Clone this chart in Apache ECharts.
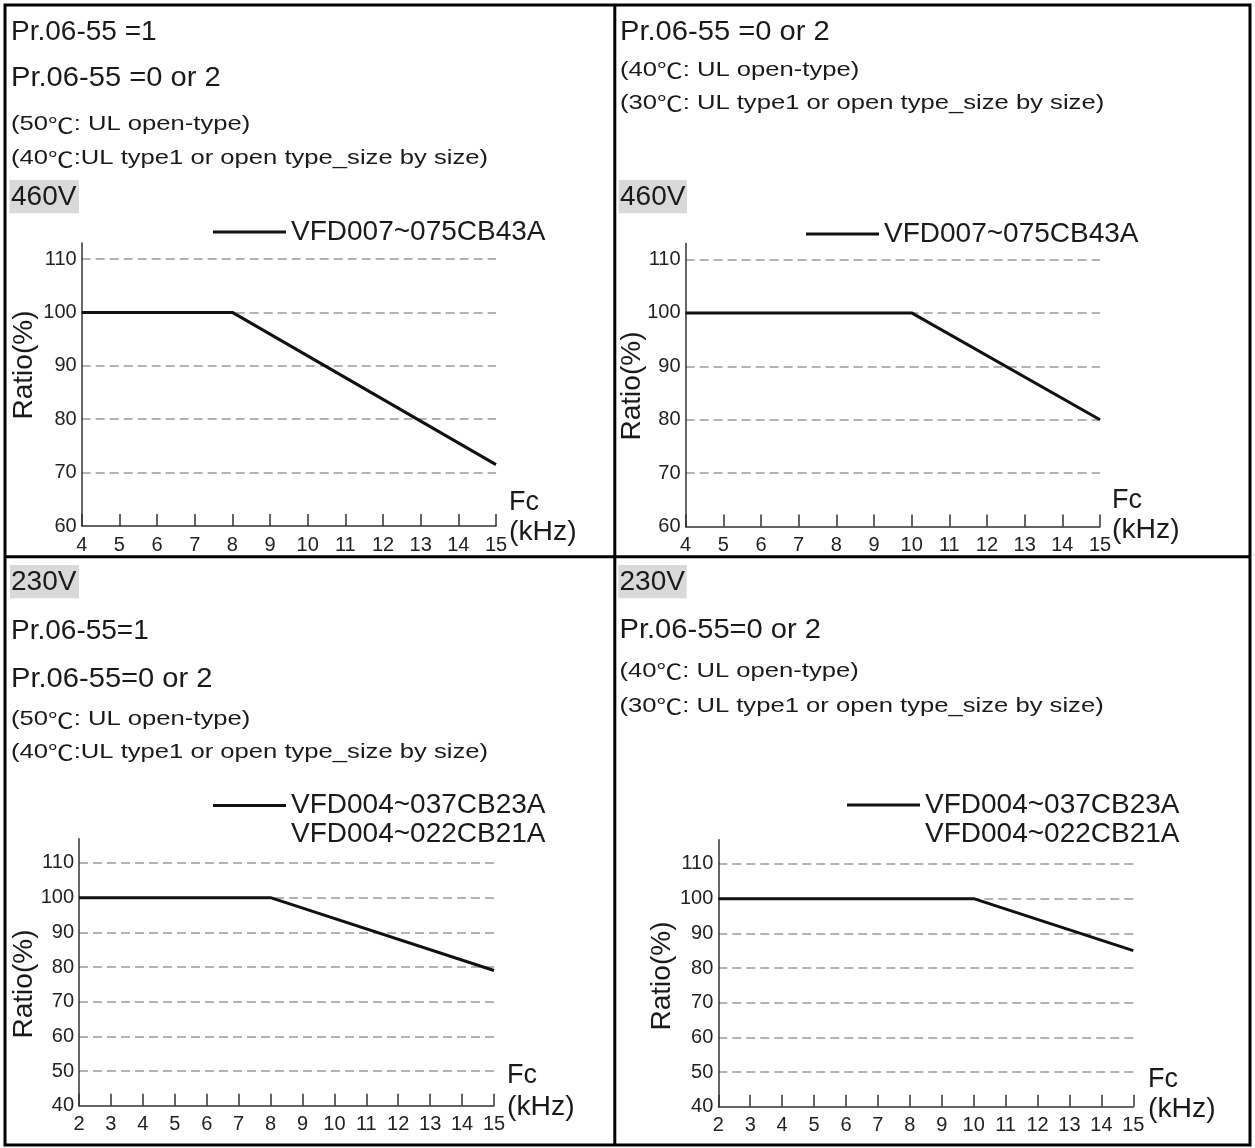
<!DOCTYPE html>
<html>
<head>
<meta charset="utf-8">
<script src="https://cdn.jsdelivr.net/npm/echarts@6/dist/echarts.min.js"></script>
<style>html,body{margin:0;padding:0;background:#fff;}#c{width:1255px;height:1148px;}</style>
</head>
<body>
<div id="c"></div>
<script>
// ---- data ----
const freqTicks460 = [4, 5, 6, 7, 8, 9, 10, 11, 12, 13, 14, 15];
const freqTicks230 = [2, 3, 4, 5, 6, 7, 8, 9, 10, 11, 12, 13, 14, 15];
const ratioTicks460 = [60, 70, 80, 90, 100, 110];
const ratioTicks230 = [40, 50, 60, 70, 80, 90, 100, 110];

const p1Fc = [4, 8, 15];
const p1Ratio = [100, 100, 71.5];
const p2Fc = [4, 10, 15];
const p2Ratio = [100, 100, 80];
const p3Fc = [2, 8, 15];
const p3Ratio = [100, 100, 79];
const p4Fc = [2, 10, 15];
const p4Ratio = [100, 100, 85];

const name460 = 'VFD007~075CB43A';
const name230a = 'VFD004~037CB23A';
const name230b = 'VFD004~022CB21A';

// ---- styling ----
const FONT = '"Liberation Sans", Arial, Helvetica, "Noto Sans CJK SC", sans-serif';
const CJK = '"Noto Sans CJK SC", "Noto Sans CJK JP", sans-serif';
const INK = '#1a1a1a';
const AXIS = '#333';

const panels = [
  {fc: p1Fc, r: p1Ratio, name: name460, xt: freqTicks460, yt: ratioTicks460, ymax: 113,
   grid: {left: 81.7, top: 243, width: 414.3, height: 283}},
  {fc: p2Fc, r: p2Ratio, name: name460, xt: freqTicks460, yt: ratioTicks460, ymax: 113,
   grid: {left: 685.6, top: 243.5, width: 414.4, height: 283}},
  {fc: p3Fc, r: p3Ratio, name: name230a, xt: freqTicks230, yt: ratioTicks230, ymax: 117,
   grid: {left: 79, top: 838.7, width: 415, height: 267}},
  {fc: p4Fc, r: p4Ratio, name: name230a, xt: freqTicks230, yt: ratioTicks230, ymax: 117,
   grid: {left: 718.3, top: 839.7, width: 415, height: 267}}
];

function txt(s, x, baseline, size, sx) {
  return {
    type: 'text', x: x, y: baseline - 0.34 * size, scaleX: sx || 1, z: 10,
    style: {
      text: s.replace('℃', '{c|℃}'), fontSize: size, fontFamily: FONT, fill: INK,
      align: 'left', verticalAlign: 'middle',
      rich: {c: {fontFamily: CJK, fontSize: size, fill: INK}}
    }
  };
}
function vbox(label, x, y, w, h, tx, baseline) {
  return [
    {type: 'rect', shape: {x: x, y: y, width: w, height: h}, style: {fill: '#d9d9d9'}, z: 5},
    txt(label, tx, baseline, 28)
  ];
}
function ratioName(cx, cy) {
  return {
    type: 'text', x: cx, y: cy, rotation: Math.PI / 2, z: 10,
    style: {text: 'Ratio(%)', fontSize: 28, fontFamily: FONT, fill: INK, align: 'center', verticalAlign: 'middle'}
  };
}
function fcName(x, b1, b2) {
  return [txt('Fc', x, b1, 27), txt('(kHz)', x, b2, 27, 1.05)];
}

const graphics = [
  {type: 'rect', shape: {x: 5, y: 5, width: 1245, height: 1140}, style: {fill: null, stroke: '#000', lineWidth: 3}, z: 20},
  {type: 'line', shape: {x1: 614.8, y1: 5, x2: 614.8, y2: 1145}, style: {stroke: '#000', lineWidth: 3}, z: 20},
  {type: 'line', shape: {x1: 5, y1: 556.7, x2: 1250, y2: 556.7}, style: {stroke: '#000', lineWidth: 3}, z: 20},
  // panel 1
  txt('Pr.06-55 =1', 11, 41.7, 28),
  txt('Pr.06-55 =0 or 2', 11, 88, 28, 1.04),
  txt('(50℃: UL open-type)', 11, 131.7, 21, 1.22),
  txt('(40℃:UL type1 or open type_size by size)', 11, 165.7, 21, 1.22),
  ...vbox('460V', 9.5, 180, 69.5, 33.3, 11, 206.7),
  ratioName(24, 365),
  ...fcName(509, 511.7, 541.7),
  // panel 2
  txt('Pr.06-55 =0 or 2', 620, 41.7, 28, 1.04),
  txt('(40℃: UL open-type)', 620, 77, 21, 1.22),
  txt('(30℃: UL type1 or open type_size by size)', 620, 110, 21, 1.22),
  ...vbox('460V', 618.5, 180, 68.5, 33.3, 620, 206.7),
  ratioName(632, 386),
  ...fcName(1112, 510, 540),
  // panel 3
  ...vbox('230V', 10, 565, 69, 33.3, 11, 591.7),
  txt('Pr.06-55=1', 11, 641, 28),
  txt('Pr.06-55=0 or 2', 11, 689, 28, 1.04),
  txt('(50℃: UL open-type)', 11, 726.7, 21, 1.22),
  txt('(40℃:UL type1 or open type_size by size)', 11, 759, 21, 1.22),
  txt(name230b, 291, 844.3, 28),
  ratioName(24, 984),
  ...fcName(507, 1085, 1116.7),
  // panel 4
  ...vbox('230V', 618.3, 565, 68.4, 33.3, 619.5, 591.7),
  txt('Pr.06-55=0 or 2', 619.5, 640, 28, 1.04),
  txt('(40℃: UL open-type)', 619.5, 678.3, 21, 1.22),
  txt('(30℃: UL type1 or open type_size by size)', 619.5, 713, 21, 1.22),
  txt(name230b, 925, 844, 28),
  ratioName(662, 976),
  ...fcName(1148, 1088.3, 1118.3)
];

const legendPos = [
  {left: 213, top: 218},
  {left: 806, top: 220},
  {left: 213, top: 791.5},
  {left: 847, top: 791}
];

const option = {
  animation: false,
  backgroundColor: '#fff',
  textStyle: {fontFamily: FONT},
  grid: panels.map(p => Object.assign({containLabel: false, outerBoundsMode: 'none'}, p.grid)),
  legend: panels.map((p, i) => ({
    data: [p.name], left: legendPos[i].left, top: legendPos[i].top, padding: 0,
    itemWidth: 73, itemHeight: 3, icon: 'rect', selectedMode: false,
    textStyle: {fontSize: 28, color: INK, fontFamily: FONT}
  })),
  xAxis: panels.map((p, i) => ({
    gridIndex: i, type: 'value', min: p.xt[0], max: p.xt[p.xt.length - 1], interval: 1,
    axisLine: {show: true, onZero: false, lineStyle: {color: AXIS, width: 1.5}},
    axisTick: {show: true, inside: true, length: 12, lineStyle: {color: AXIS, width: 1.5}},
    axisLabel: {fontSize: 20, color: '#222', margin: 9, fontFamily: FONT},
    splitLine: {show: false}
  })),
  yAxis: panels.map((p, i) => ({
    gridIndex: i, type: 'value', min: p.yt[0], max: p.ymax, interval: 10,
    axisLine: {show: true, onZero: false, lineStyle: {color: AXIS, width: 1.5}},
    axisTick: {show: false},
    axisLabel: {fontSize: 20, color: '#222', margin: 5, fontFamily: FONT, showMaxLabel: false,
      formatter: v => (p.yt.indexOf(v) >= 0 ? String(v) : '')},
    splitLine: {show: true, showMinLine: false, showMaxLine: false,
      lineStyle: {type: [9, 5], color: '#9a9a9a', width: 1.5}}
  })),
  series: panels.map((p, i) => ({
    type: 'line', name: p.name, xAxisIndex: i, yAxisIndex: i,
    data: p.fc.map((f, k) => [f, p.r[k]]),
    symbol: 'none', showSymbol: false,
    lineStyle: {color: '#111', width: 3}, itemStyle: {color: '#111'}, z: 3
  })),
  graphic: graphics
};

const chart = echarts.init(document.getElementById('c'), null, {renderer: 'canvas'});
chart.setOption(option);
</script>
</body>
</html>
